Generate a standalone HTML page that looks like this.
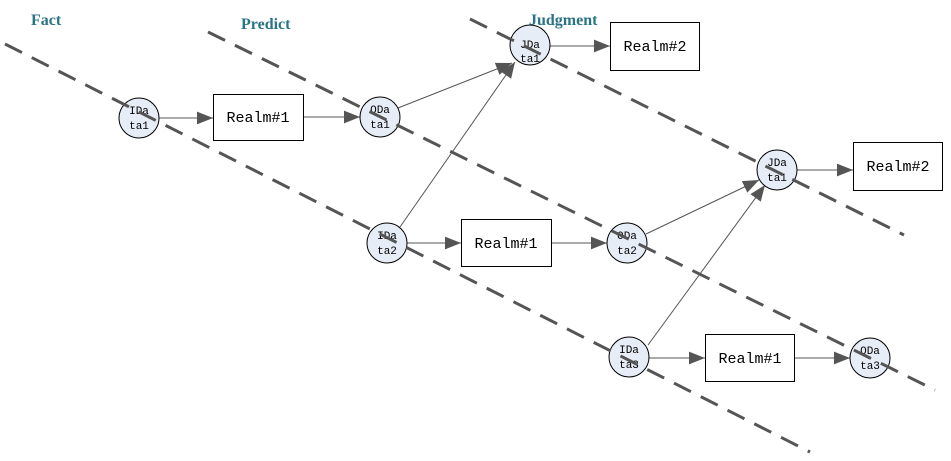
<!DOCTYPE html>
<html><head><meta charset="utf-8"><style>body{margin:0;background:#fff}svg{display:block}</style></head><body>
<svg width="951" height="461" viewBox="0 0 951 461" xmlns="http://www.w3.org/2000/svg">
<defs><marker id="a" viewBox="0 0 10 10" refX="10" refY="5" markerWidth="16" markerHeight="16" markerUnits="userSpaceOnUse" orient="auto"><path d="M0,1 L10,5 L0,9 z" fill="#555"/></marker></defs>
<g font-family="Liberation Serif,serif" font-weight="bold" font-size="16" fill="#2a7385">
<text x="31" y="25">Fact</text><text x="241" y="29">Predict</text><text x="529" y="25">Judgment</text></g>
<g stroke="#555" stroke-width="1" fill="none" marker-end="url(#a)">
<line x1="159" y1="118" x2="213" y2="118"/><line x1="303" y1="117" x2="360" y2="117"/>
<line x1="398" y1="108" x2="512" y2="63"/><line x1="400" y1="227" x2="515" y2="62"/>
<line x1="550" y1="46" x2="610" y2="46"/><line x1="407" y1="243" x2="461" y2="243"/>
<line x1="551" y1="243" x2="607" y2="243"/><line x1="646" y1="234" x2="759" y2="180"/>
<line x1="648" y1="345" x2="765" y2="185"/><line x1="649" y1="358" x2="705" y2="358"/>
<line x1="794" y1="358" x2="850" y2="358"/><line x1="797" y1="170" x2="853" y2="170"/>
</g>
<g stroke="#000" stroke-width="1" fill="#fff">
<rect x="213.5" y="94.5" width="90" height="46"/><rect x="610.5" y="22.5" width="89" height="48"/>
<rect x="461.5" y="219.5" width="90" height="47"/><rect x="853.5" y="142.5" width="89" height="48"/>
<rect x="705.5" y="334.5" width="89" height="47"/></g>
<g font-family="Liberation Mono,monospace" font-size="15" text-anchor="middle" fill="#000">
<text x="258" y="122">Realm#1</text><text x="655" y="51">Realm#2</text><text x="506" y="248">Realm#1</text>
<text x="898" y="171">Realm#2</text><text x="750" y="363">Realm#1</text></g>
<g stroke="#000" stroke-width="1" fill="#e6edf7">
<circle cx="139" cy="118" r="20"/><circle cx="380" cy="117" r="20"/><circle cx="530" cy="45" r="20"/>
<circle cx="387" cy="243" r="20"/><circle cx="627" cy="243" r="20"/><circle cx="777" cy="170" r="20"/>
<circle cx="629" cy="357" r="20"/><circle cx="870" cy="358" r="20"/></g>
<g font-family="Liberation Mono,monospace" font-size="11" text-anchor="middle" fill="#000">
<text x="139" y="114">IDa</text><text x="139" y="129">ta1</text>
<text x="380" y="113">ODa</text><text x="380" y="128">ta1</text>
<text x="530" y="48">JDa</text><text x="530" y="62">ta1</text>
<text x="387" y="239">IDa</text><text x="387" y="254">ta2</text>
<text x="627" y="239">ODa</text><text x="627" y="254">ta2</text>
<text x="777" y="166">JDa</text><text x="777" y="181">ta1</text>
<text x="629" y="353">IDa</text><text x="629" y="368">ta3</text>
<text x="870" y="354">ODa</text><text x="870" y="369">ta3</text></g>
<g stroke="#555" stroke-width="3" stroke-dasharray="19,11" fill="none">
<line x1="5" y1="44" x2="810" y2="452"/>
<line x1="208" y1="32" x2="935" y2="390"/>
<line x1="470" y1="19" x2="904" y2="235"/></g>
</svg></body></html>
